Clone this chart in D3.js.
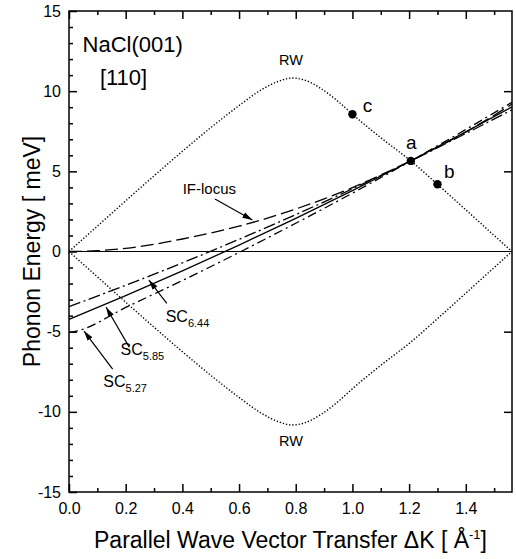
<!DOCTYPE html>
<html>
<head>
<meta charset="utf-8">
<script src="https://cdn.jsdelivr.net/npm/d3@7"></script>
<style>
  body { margin: 0; background: #fff; }
  svg { display: block; font-family: "Liberation Sans", Arial, Helvetica, sans-serif; }
</style>
</head>
<body>
<div id="chart-container"></div>
<script>
// Rayleigh wave (upper branch, lower branch is its mirror)
const rwK = [0, 0.1, 0.2, 0.3, 0.4, 0.5, 0.6, 0.68, 0.74, 0.787, 0.83, 0.89, 0.96, 1.0, 1.1, 1.206, 1.3, 1.4, 1.5, 1.563];
const rwE = [0, 1.58, 3.16, 4.72, 6.25, 7.72, 9.1, 10.1, 10.62, 10.82, 10.7, 10.15, 9.2, 8.56, 7.1, 5.65, 4.19, 2.6, 1.0, 0];

// IF-locus
const ifK = [0, 0.1, 0.2, 0.3, 0.4, 0.5, 0.6, 0.7, 0.8, 0.9, 1.0, 1.1, 1.2, 1.3, 1.4, 1.5, 1.563];
const ifE = [0, 0.05, 0.2, 0.45, 0.78, 1.15, 1.58, 2.08, 2.65, 3.28, 3.98, 4.77, 5.6, 6.5, 7.45, 8.5, 9.2];

// scan curves
const scK = [0, 0.2, 0.4, 0.6, 0.8, 1.0, 1.2, 1.4, 1.563];
const sc644 = [-3.44, -2.11, -0.71, 0.76, 2.30, 3.91, 5.60, 7.36, 8.84];
const sc585 = [-4.23, -2.75, -1.21, 0.40, 2.07, 3.80, 5.60, 7.46, 9.02];
const sc527K = [0, 0.03, 0.2, 0.4, 0.6, 0.8, 1.0, 1.2, 1.4, 1.563];
const sc527 = [-5.05, -4.95, -3.49, -1.81, -0.06, 1.76, 3.64, 5.59, 7.61, 9.31];

// marked points
const ptK = [1.206, 1.30, 1.0];
const ptE = [5.65, 4.19, 8.56];
const ptLabels = ["a", "b", "c"];

const xTicks = [0, 0.2, 0.4, 0.6, 0.8, 1.0, 1.2, 1.4];
const yTicks = [-15, -10, -5, 0, 5, 10, 15];

let W = 516, H = 559,
    svg = d3.select("#chart-container").append("svg").attr("width", W).attr("height", H),
    pL = 69, pR = 512, pT = 11, pB = 492;

let x = d3.scaleLinear().domain([0, 1.563]).range([pL, pR]),
    y = d3.scaleLinear().domain([-15, 15]).range([pB, pT]);

let zip = (ks, es) => ks.map((k, i) => [k, es[i]]);

let line = d3.line()
    .x(d => x(d[0]))
    .y(d => y(d[1]))
    .curve(d3.curveMonotoneX);

// arrow head
svg.append("defs").append("marker")
    .attr("id", "head")
    .attr("markerUnits", "userSpaceOnUse")
    .attr("viewBox", "0 0 10 10")
    .attr("refX", 10).attr("refY", 5)
    .attr("markerWidth", 10).attr("markerHeight", 10)
    .attr("orient", "auto")
  .append("path")
    .attr("d", "M0,2 L10,5 L0,8 Z")
    .attr("fill", "#000");

// zero line
svg.append("line")
    .attr("x1", x(0)).attr("x2", x(1.563))
    .attr("y1", y(0)).attr("y2", y(0))
    .attr("stroke", "#000").attr("stroke-width", 1.2);

// RW branches
[1, -1].forEach(s => {
    svg.append("path")
        .datum(zip(rwK, rwE.map(e => s * e)))
        .attr("d", line)
        .attr("fill", "none")
        .attr("stroke", "#000")
        .attr("stroke-width", 1.4)
        .attr("stroke-dasharray", "1.3,1.9");
});

// IF-locus and scan curves
let curves = [
    { k: ifK, e: ifE, dash: "13,5" },
    { k: scK, e: sc644, dash: "12,3.5,2,3.5" },
    { k: scK, e: sc585, dash: null },
    { k: sc527K, e: sc527, dash: "9,4,2,4" }
];
curves.forEach(c => {
    svg.append("path")
        .datum(zip(c.k, c.e))
        .attr("d", line)
        .attr("fill", "none")
        .attr("stroke", "#000")
        .attr("stroke-width", 1.3)
        .attr("stroke-dasharray", c.dash);
});

// points a b c
svg.selectAll(".pt")
    .data(ptK)
    .enter().append("circle")
    .attr("class", "pt")
    .attr("cx", d => x(d))
    .attr("cy", (d, i) => y(ptE[i]))
    .attr("r", 4.2)
    .attr("fill", "#000");

svg.selectAll(".ptl")
    .data(ptLabels)
    .enter().append("text")
    .attr("class", "ptl")
    .attr("x", (d, i) => x([1.189, 1.323, 1.036][i]))
    .attr("y", (d, i) => y([6.39, 4.6, 8.72][i]))
    .attr("font-size", 19)
    .text(d => d);

// frame + axes
svg.append("rect")
    .attr("x", pL).attr("y", pT)
    .attr("width", pR - pL).attr("height", pB - pT)
    .attr("fill", "none").attr("stroke", "#000").attr("stroke-width", 1.5);

function ticks(axis, vals, size, fmt) {
    return axis.tickValues(vals).tickSizeInner(-size).tickSizeOuter(0).tickFormat(fmt);
}
let minorX = [0.1, 0.3, 0.5, 0.7, 0.9, 1.1, 1.3, 1.5],
    minorY = d3.range(-14, 15).filter(v => v % 5 != 0);

svg.append("g").attr("transform", `translate(0,${pB})`)
    .call(ticks(d3.axisBottom(x), xTicks, 8, d => d.toFixed(1)).tickPadding(11));
svg.append("g").attr("transform", `translate(0,${pB})`)
    .call(ticks(d3.axisBottom(x), minorX, 4, ""));
svg.append("g").attr("transform", `translate(0,${pT})`)
    .call(ticks(d3.axisTop(x), xTicks, 8, ""));
svg.append("g").attr("transform", `translate(0,${pT})`)
    .call(ticks(d3.axisTop(x), minorX, 4, ""));
svg.append("g").attr("transform", `translate(${pL},0)`)
    .call(ticks(d3.axisLeft(y), yTicks, 8, d => String(d)).tickPadding(8));
svg.append("g").attr("transform", `translate(${pL},0)`)
    .call(ticks(d3.axisLeft(y), minorY, 4, ""));
svg.append("g").attr("transform", `translate(${pR},0)`)
    .call(ticks(d3.axisRight(y), [-10, -5, 5, 10], 8, ""));

svg.selectAll(".domain").remove();
svg.selectAll(".tick line").attr("stroke-width", 1.5);
svg.selectAll(".tick text").attr("font-size", 16).attr("fill", "#000").attr("font-family", null);

// titles
svg.append("text")
    .attr("transform", `translate(40,${(pT + pB) / 2}) rotate(-90)`)
    .attr("text-anchor", "middle")
    .attr("font-size", 23)
    .text("Phonon Energy [ meV]");

let xt = svg.append("text")
    .attr("x", (pL + pR) / 2).attr("y", 548)
    .attr("text-anchor", "middle")
    .attr("font-size", 23);
xt.append("tspan").text("Parallel Wave Vector Transfer ΔK [ Å");
xt.append("tspan").attr("font-size", 13).attr("dy", -9).text("-1");
xt.append("tspan").attr("dy", 9).text("]");

// labels
svg.append("text").attr("x", x(0.048)).attr("y", y(12.43)).attr("font-size", 22).text("NaCl(001)");
svg.append("text").attr("x", x(0.109)).attr("y", y(10.39)).attr("font-size", 22).text("[110]");
svg.append("text").attr("x", x(0.783)).attr("y", y(11.63)).attr("text-anchor", "middle").attr("font-size", 14.5).text("RW");
svg.append("text").attr("x", x(0.783)).attr("y", y(-12.13)).attr("text-anchor", "middle").attr("font-size", 14.5).text("RW");
svg.append("text").attr("x", x(0.401)).attr("y", y(3.57)).attr("font-size", 15).text("IF-locus");

function arrow(k0, e0, k1, e1) {
    svg.append("line")
        .attr("x1", x(k0)).attr("y1", y(e0))
        .attr("x2", x(k1)).attr("y2", y(e1))
        .attr("stroke", "#000").attr("stroke-width", 1.2)
        .attr("marker-end", "url(#head)");
}
arrow(0.515, 3.28, 0.647, 1.97);

function scLabel(k, e, sub) {
    let t = svg.append("text").attr("x", x(k)).attr("y", y(e)).attr("font-size", 16);
    t.append("tspan").text("SC");
    t.append("tspan").attr("font-size", 11).attr("dy", 5).text(sub);
}
scLabel(0.341, -4.42, "6.44");
arrow(0.345, -3.23, 0.282, -1.78);
scLabel(0.182, -6.46, "5.85");
arrow(0.213, -5.98, 0.131, -3.48);
scLabel(0.121, -8.47, "5.27");
arrow(0.154, -7.33, 0.053, -4.96);
</script>
</body>
</html>
